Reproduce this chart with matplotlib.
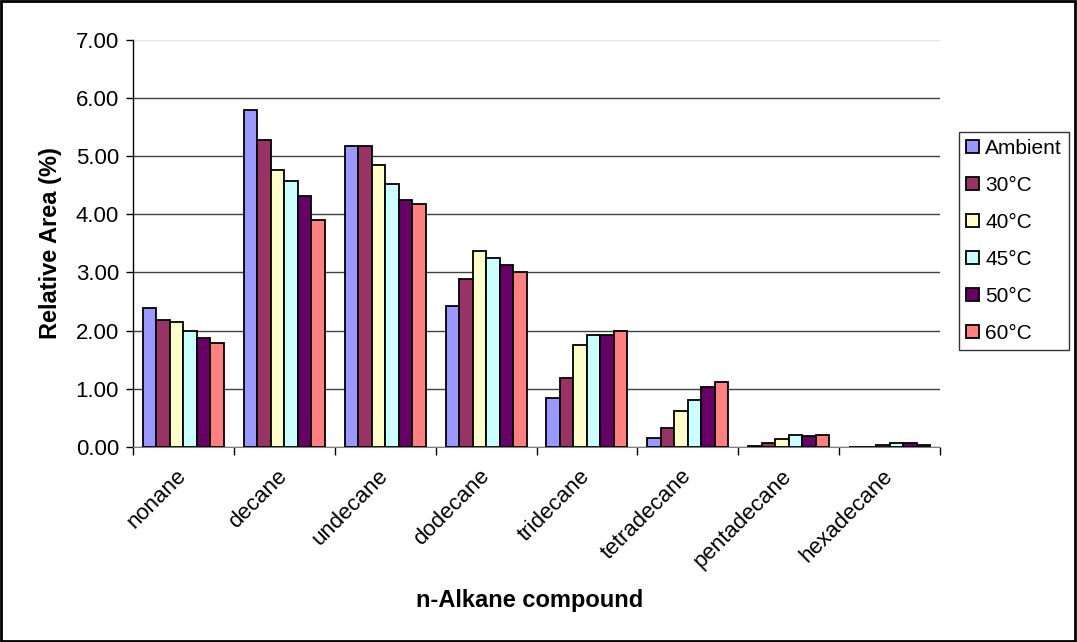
import matplotlib.pyplot as plt
import matplotlib.transforms as mtransforms
import numpy as np

plt.rcParams['font.family'] = ['Liberation Sans', 'DejaVu Sans']

# --- data ---
compounds = ['nonane', 'decane', 'undecane', 'dodecane', 'tridecane',
             'tetradecane', 'pentadecane', 'hexadecane']
series = ['Ambient', '30°C', '40°C', '45°C', '50°C', '60°C']
ambient = [2.39, 5.79, 5.18, 2.42, 0.84, 0.15, 0.02, 0.00]
t30 = [2.18, 5.28, 5.18, 2.88, 1.18, 0.33, 0.06, 0.00]
t40 = [2.15, 4.76, 4.85, 3.36, 1.75, 0.61, 0.13, 0.03]
t45 = [2.00, 4.58, 4.52, 3.24, 1.93, 0.81, 0.21, 0.06]
t50 = [1.87, 4.31, 4.25, 3.13, 1.93, 1.02, 0.18, 0.06]
t60 = [1.78, 3.91, 4.18, 3.00, 1.99, 1.12, 0.21, 0.03]
values = [ambient, t30, t40, t45, t50, t60]
colors = ['#9999FF', '#993366', '#FFFFCC', '#CCFFFF', '#660066', '#FF8080']

fig = plt.figure(figsize=(10.77, 6.42), dpi=100)
ax = fig.add_axes([0.1235, 0.3042, 0.7493, 0.6335])

x = np.arange(len(compounds))
width = 0.134
for i, (name, vals, c) in enumerate(zip(series, values, colors)):
    offs = (i - 2.5) * width
    ax.bar(x + offs, vals, width, color=c, edgecolor='black', linewidth=1.3,
           label=name, zorder=3)

ax.set_xlim(-0.5, len(compounds) - 0.5)
ax.set_ylim(0, 7)
ax.set_yticks(np.arange(0, 7.01, 1))
ax.set_yticklabels([f'{v:.2f}' for v in np.arange(0, 7.01, 1)], fontsize=16)
ax.grid(axis='y', color='#404040', linewidth=1.0, zorder=0)
ax.get_ygridlines()[-1].set_color('#e4e4e4')

# ticks between categories, labels at centres
ax.set_xticks(np.arange(-0.5, len(compounds)), minor=False)
ax.set_xticklabels([])
ax.set_xticks(x, minor=True)
ax.set_xticklabels(compounds, minor=True, rotation=45, ha='right', va='center',
                   rotation_mode='anchor', fontsize=16)
shift = mtransforms.ScaledTranslation(-8 / 72, 0, fig.dpi_scale_trans)
for lab in ax.get_xticklabels(minor=True):
    lab.set_transform(lab.get_transform() + shift)
ax.tick_params(axis='x', which='minor', length=0, pad=19)
ax.tick_params(axis='x', which='major', length=6, width=1, direction='out')
ax.tick_params(axis='y', length=5, width=1, direction='out', pad=5)

for s in ['top', 'right']:
    ax.spines[s].set_visible(False)
ax.spines['left'].set_linewidth(1)
ax.spines['bottom'].set_color('#808080')

ax.set_ylabel('Relative Area (%)', fontsize=17, fontweight='bold', labelpad=10)
fig.text(0.492, 0.065, 'n-Alkane compound', fontsize=17, fontweight='bold',
         ha='center', va='center')

leg = ax.legend(loc='upper left', bbox_to_anchor=(1.0235, 0.774), fontsize=15,
                frameon=True, fancybox=False, edgecolor='black',
                handlelength=0.6, handleheight=0.6, handletextpad=0.3,
                labelspacing=0.86, borderpad=0.35, borderaxespad=0)
leg.get_frame().set_linewidth(1)

# outer border
fig.patches.append(plt.Rectangle((0.001, 0.002), 0.997, 0.996, transform=fig.transFigure,
                                 fill=False, edgecolor='black', linewidth=2))

plt.savefig('out.png', dpi=100)
